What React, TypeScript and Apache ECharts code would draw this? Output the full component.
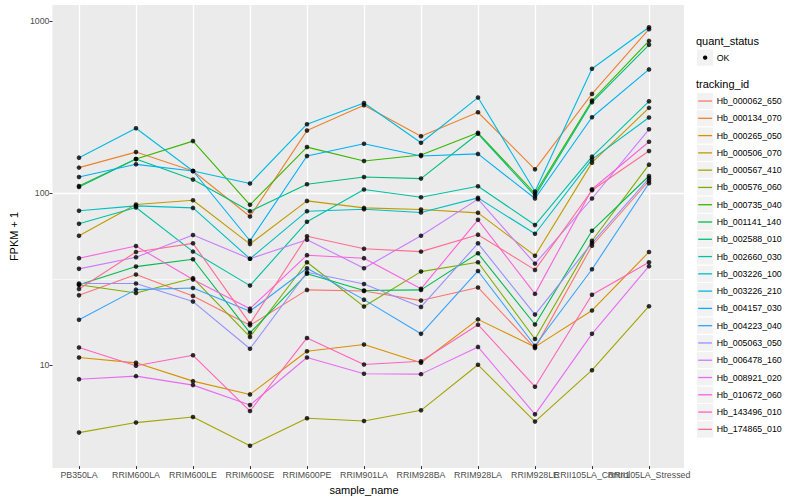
import React, { useEffect, useRef } from 'react';
import * as echarts from 'echarts';

const categories = ['PB350LA', 'RRIM600LA', 'RRIM600LE', 'RRIM600SE', 'RRIM600PE', 'RRIM901LA', 'RRIM928BA', 'RRIM928LA', 'RRIM928LE', 'RRII105LA_Control', 'RRII105LA_Stressed'];

const trackingIds = ['Hb_000062_650', 'Hb_000134_070', 'Hb_000265_050', 'Hb_000506_070', 'Hb_000567_410', 'Hb_000576_060', 'Hb_000735_040', 'Hb_001141_140', 'Hb_002588_010', 'Hb_002660_030', 'Hb_003226_100', 'Hb_003226_210', 'Hb_004157_030', 'Hb_004223_040', 'Hb_005063_050', 'Hb_006478_160', 'Hb_008921_020', 'Hb_010672_060', 'Hb_143496_010', 'Hb_174865_010'];

const palette = ['#F8766D', '#EA8331', '#D89000', '#C09B00', '#A3A500', '#7CAE00', '#39B600', '#00BB4E', '#00BF7D', '#00C1A3', '#00BFC4', '#00BAE0', '#00B0F6', '#35A2FF', '#9590FF', '#C77CFF', '#E76BF3', '#FA62DB', '#FF62BC', '#FF6C91'];

// FPKM + 1 per sample, in category order
const hb000062_650 = [25.0, 33.1, 24.8, 16.7, 26.9, 26.5, 23.3, 27.8, 12.3, 48.7, 116.7];
const hb000134_070 = [139.2, 171.5, 133.0, 72.2, 229, 322, 212.5, 293, 136, 375, 895];
const hb000265_050 = [10.84, 10.09, 7.89, 6.6, 11.79, 12.9, 10.1, 18.1, 12.5, 20.4, 44.8];
const hb000506_070 = [55.7, 84.8, 89.8, 49.8, 89.0, 81.0, 79.3, 75.8, 42.6, 148.8, 310.8];
const hb000567_410 = [3.95, 4.52, 4.87, 3.31, 4.79, 4.62, 5.33, 9.83, 4.58, 9.14, 21.6];
const hb000576_060 = [28.8, 25.8, 31.5, 14.3, 39.0, 21.5, 34.4, 39.0, 13.9, 52.1, 144.9];
const hb000735_040 = [108.8, 156.2, 198.8, 84.4, 183.4, 152.1, 164.8, 222.4, 98.3, 342.7, 765];
const hb001141_140 = [28.8, 36.8, 40.6, 15.1, 33.4, 26.7, 26.9, 44.0, 16.9, 59.6, 124.4];
const hb002588_010 = [107.4, 156.2, 118.5, 77.5, 111.3, 122.7, 120.1, 219.4, 95.2, 335, 725];
const hb002660_030 = [65.4, 81.5, 45.0, 28.5, 67.2, 103.7, 93.5, 108.4, 64.3, 161.3, 339.5];
const hb003226_100 = [77.9, 83.2, 81.0, 40.9, 77.5, 79.6, 76.2, 92.7, 57.2, 155.5, 273];
const hb003226_210 = [159.1, 236.4, 133.0, 112.4, 249.5, 332, 194.5, 357, 100.9, 526, 919];
const hb004157_030 = [122.7, 145.5, 133.0, 52.1, 162.6, 191.9, 162.6, 167.4, 91.9, 274, 521];
const hb004223_040 = [18.0, 27.0, 27.6, 20.2, 36.0, 23.6, 14.9, 34.7, 12.7, 35.5, 112.8];
const hb005063_050 = [29.3, 29.3, 23.0, 12.2, 34.1, 29.1, 21.4, 50.3, 19.3, 50.5, 120.6];
const hb006478_160 = [35.7, 41.7, 56.2, 40.9, 52.8, 36.0, 55.7, 91.1, 38.3, 91.9, 233];
const hb008921_020 = [8.1, 8.44, 7.48, 5.72, 10.84, 8.71, 8.67, 12.5, 5.05, 14.9, 37.0];
const hb010672_060 = [41.2, 48.5, 30.9, 20.9, 42.9, 41.2, 27.3, 69.0, 25.5, 104.1, 197.2];
const hb143496_010 = [12.4, 9.7, 11.17, 5.28, 14.1, 9.87, 10.31, 16.85, 7.32, 25.2, 39.0];
const hb174865_010 = [27.2, 44.8, 50.3, 17.1, 55.3, 46.8, 45.0, 56.5, 35.2, 102.7, 173.9];

const seriesValues = [hb000062_650, hb000134_070, hb000265_050, hb000506_070, hb000567_410, hb000576_060, hb000735_040, hb001141_140, hb002588_010, hb002660_030, hb003226_100, hb003226_210, hb004157_030, hb004223_040, hb005063_050, hb006478_160, hb008921_020, hb010672_060, hb143496_010, hb174865_010];

const yMajorTicks = [10, 100, 1000];
const yMinorTicks = [3.1623, 31.623, 316.23];
const quantStatus = ['OK'];

const FONT = 'Liberation Sans, Arial, Helvetica, sans-serif';
const Y_MIN = 2.518;
const Y_MAX = 1239;

export default function App() {
  const ref = useRef<HTMLDivElement>(null);

  useEffect(() => {
    if (!ref.current) return;
    const chart = echarts.init(ref.current, undefined, { renderer: 'svg' });

    const lineSeries = seriesValues.map((vals, s) => ({
      type: 'line',
      name: trackingIds[s],
      xAxisIndex: 1,
      yAxisIndex: 2,
      data: vals.map((v, i) => [i, v]),
      symbol: 'none',
      clip: false,
      silent: true,
      lineStyle: { color: palette[s], width: 1.1 },
      itemStyle: { color: palette[s] },
      z: 2,
    }));

    const points: number[][] = [];
    seriesValues.forEach((vals) => vals.forEach((v, i) => points.push([i, v])));

    // split the category labels over two axes so that overlapping labels are both drawn (as in the reference)
    const allIdx = categories.map((_, i) => i);
    const labelSetA = allIdx.filter((i) => i % 2 === 0 || i < 8);
    const labelSetB = allIdx.filter((i) => labelSetA.indexOf(i) < 0);

    const legendX = 696.5;
    const keySize = 17.28;
    const legendGraphics: any[] = [
      { type: 'text', x: 696, y: 41, style: { text: 'quant_status', fontSize: 11, fontFamily: FONT, fill: '#000', verticalAlign: 'middle' } },
      { type: 'rect', shape: { x: legendX, y: 49, width: keySize, height: keySize }, style: { fill: '#F2F2F2', stroke: '#fff', lineWidth: 1 } },
      { type: 'circle', shape: { cx: legendX + keySize / 2, cy: 49 + keySize / 2, r: 2.2 }, style: { fill: '#000' } },
      { type: 'text', x: 716.7, y: 49 + keySize / 2, style: { text: quantStatus[0], fontSize: 8.8, fontFamily: FONT, fill: '#000', verticalAlign: 'middle' } },
      { type: 'text', x: 696, y: 84, style: { text: 'tracking_id', fontSize: 11, fontFamily: FONT, fill: '#000', verticalAlign: 'middle' } },
    ];
    trackingIds.forEach((id, i) => {
      const top = 92.4 + i * keySize;
      const cy = top + keySize / 2;
      legendGraphics.push(
        { type: 'rect', shape: { x: legendX, y: top, width: keySize, height: keySize }, style: { fill: '#F2F2F2', stroke: '#fff', lineWidth: 1 } },
        { type: 'line', shape: { x1: legendX + 1.7, y1: cy, x2: legendX + keySize - 1.7, y2: cy }, style: { stroke: palette[i], lineWidth: 1.3 } },
        { type: 'text', x: 716.7, y: cy, style: { text: id, fontSize: 8.8, fontFamily: FONT, fill: '#000', verticalAlign: 'middle' } }
      );
    });

    const labelBase = {
      show: true,
      margin: 4,
      fontSize: 8.8,
      color: '#4D4D4D',
      fontFamily: FONT,
      showMinLabel: true,
      showMaxLabel: true,
      hideOverlap: false,
      formatter: (v: number) => categories[Math.round(v)] ?? '',
    };

    chart.setOption({
      animation: false,
      textStyle: { fontFamily: FONT },
      grid: [
        { left: 45, top: 5, width: 639, height: 463, show: true, backgroundColor: '#EBEBEB', borderWidth: 0, borderColor: 'transparent', containLabel: false },
        { left: 79, top: 5, width: 570, height: 463, show: false, containLabel: false },
      ],
      xAxis: [
        { type: 'value', gridIndex: 0, min: 0, max: 1, show: false },
        {
          type: 'value',
          gridIndex: 1,
          position: 'bottom',
          min: 0,
          max: 10,
          interval: 1,
          name: 'sample_name',
          nameLocation: 'middle',
          nameGap: 14,
          nameTextStyle: { fontSize: 11, color: '#000', fontFamily: FONT },
          axisLine: { show: false },
          axisTick: { show: true, length: 3, lineStyle: { color: '#333333', width: 1 } },
          axisLabel: { ...labelBase, customValues: labelSetA },
          splitLine: { show: true, lineStyle: { color: '#FFFFFF', width: 1.3 } },
        },
        {
          type: 'value',
          gridIndex: 1,
          position: 'bottom',
          offset: 0,
          min: 0,
          max: 10,
          interval: 1,
          axisLine: { show: false },
          axisTick: { show: false },
          axisLabel: { ...labelBase, customValues: labelSetB },
          splitLine: { show: false },
        },
      ],
      yAxis: [
        {
          type: 'log',
          gridIndex: 0,
          logBase: 10,
          min: Y_MIN,
          max: Y_MAX,
          name: 'FPKM + 1',
          nameLocation: 'middle',
          nameGap: 27,
          nameRotate: 90,
          nameTextStyle: { fontSize: 11, color: '#000', fontFamily: FONT },
          axisLine: { show: false },
          axisTick: { show: true, length: 3, lineStyle: { color: '#333333', width: 1 }, customValues: yMajorTicks },
          axisLabel: {
            show: true,
            margin: 3,
            fontSize: 8.8,
            color: '#4D4D4D',
            fontFamily: FONT,
            customValues: yMajorTicks,
            formatter: (v: number) => String(Math.round(v)),
          },
          splitLine: { show: true, showMinLine: false, showMaxLine: false, lineStyle: { color: '#FFFFFF', width: 1.3 } },
        },
        {
          type: 'log',
          gridIndex: 0,
          logBase: 10,
          min: Y_MIN,
          max: Y_MAX,
          axisLine: { show: false },
          axisTick: { show: false, customValues: yMinorTicks },
          axisLabel: { show: false, customValues: yMinorTicks },
          splitLine: { show: true, showMinLine: false, showMaxLine: false, lineStyle: { color: '#FFFFFF', width: 0.6 } },
        },
        {
          type: 'log',
          gridIndex: 1,
          logBase: 10,
          min: Y_MIN,
          max: Y_MAX,
          show: false,
          splitLine: { show: false },
        },
      ],
      series: [
        ...lineSeries,
        {
          type: 'scatter',
          name: quantStatus[0],
          xAxisIndex: 1,
          yAxisIndex: 2,
          data: points,
          symbol: 'circle',
          symbolSize: 4.6,
          clip: false,
          silent: true,
          itemStyle: { color: '#000000' },
          z: 5,
        },
      ],
      graphic: legendGraphics,
    });

    return () => chart.dispose();
  }, []);

  return <div ref={ref} style={{ position: 'fixed', left: 0, top: 0, width: 800, height: 500, background: '#fff' }} />;
}
